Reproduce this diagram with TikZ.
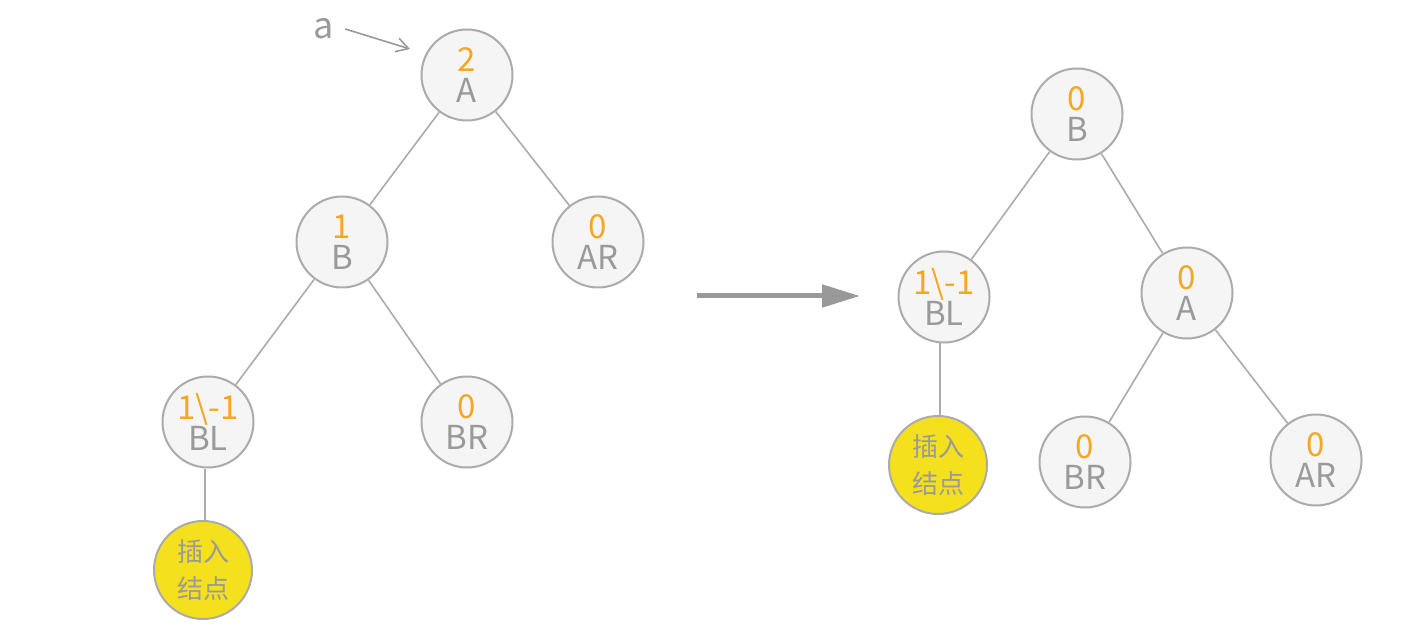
\documentclass[tikz,border=0pt]{standalone}
\usepackage{fontspec}
\setmainfont{Noto Sans CJK SC}
\usepackage{xcolor}
\usepackage{tikz}
\usetikzlibrary{arrows.meta, positioning}

\definecolor{nodefill}{HTML}{F5F5F5}
\definecolor{nodeline}{HTML}{ABABAB}
\definecolor{txtgray}{HTML}{9A9A9A}
\definecolor{balorange}{HTML}{F5A623}
\definecolor{insyellow}{HTML}{F4E01C}
\definecolor{arrowgray}{HTML}{999999}

% balance factor above, key below
\newcommand{\avlkey}[2]{{\color{balorange}#1}\\#2}

\begin{document}
\begin{tikzpicture}[x=0.5pt, y=-0.5pt, every node/.style={text=txtgray},
  treenode/.style={circle, draw=nodeline, fill=nodefill, line width=1pt,
    minimum size=45.5pt, inner sep=0pt, align=center, yshift=1.5pt,
    font=\fontsize{16.5}{15.5}\selectfont},
  insnode/.style={circle, draw=nodeline, fill=insyellow, line width=1pt,
    minimum size=49pt, inner sep=0pt, align=center,
    font=\fontsize{13}{18.5}\selectfont},
  treeedge/.style={draw=nodeline, line width=0.8pt}]
\useasboundingbox (0,0) rectangle (1416,635);
% Left tree, before rotation
\node[treenode] (lA)  at (467,78)  {\avlkey{2}{A}};
\node[treenode] (lB)  at (342,245) {\avlkey{1}{B}};
\node[treenode] (lAR) at (598,245) {\avlkey{0}{AR}};
\node[treenode] (lBL) at (208,425) {\avlkey{1\textbackslash-1}{BL}};
\node[treenode] (lBR) at (467,425) {\avlkey{0}{BR}};
\node[insnode]  (lIns) at (203,570) {插入\\结点};
\draw[treeedge] (lA) -- (lB);
\draw[treeedge] (lA) -- (lAR);
\draw[treeedge] (lB) -- (lBL);
\draw[treeedge] (lB) -- (lBR);
\draw[treeedge] (lBL.south -| 205,0) -- (lIns.north -| 205,0);
% Pointer a
\node[font=\fontsize{18}{18}\selectfont] (ptrA) at (324,29) {a};
\coordinate (ptrEnd) at (410,49);
\draw[arrowgray, line width=0.8pt, -{Straight Barb[length=6pt, width=7pt]}]
  (ptrA.east) ++(4,0) -- (ptrEnd);
% Rotation arrow
\coordinate (rotFrom) at (697,296);
\coordinate (rotTo)   at (860,296);
\draw[arrowgray, line width=2.5pt, -{Triangle[length=19pt, width=11pt]}]
  (rotFrom) -- (rotTo);
% Right tree, after rotation
\node[treenode] (rB)  at (1077,117) {\avlkey{0}{B}};
\node[treenode] (rBL) at (944,300)  {\avlkey{1\textbackslash-1}{BL}};
\node[treenode] (rA)  at (1187,296) {\avlkey{0}{A}};
\node[insnode]  (rIns) at (938,465) {插入\\结点};
\node[treenode] (rBR) at (1085,465) {\avlkey{0}{BR}};
\node[treenode] (rAR) at (1316,463) {\avlkey{0}{AR}};
\draw[treeedge] (rB) -- (rBL);
\draw[treeedge] (rB) -- (rA);
\draw[treeedge] (rBL.south -| 940,0) -- (rIns.north -| 940,0);
\draw[treeedge] (rA) -- (rBR);
\draw[treeedge] (rA) -- (rAR);
\end{tikzpicture}
\end{document}
